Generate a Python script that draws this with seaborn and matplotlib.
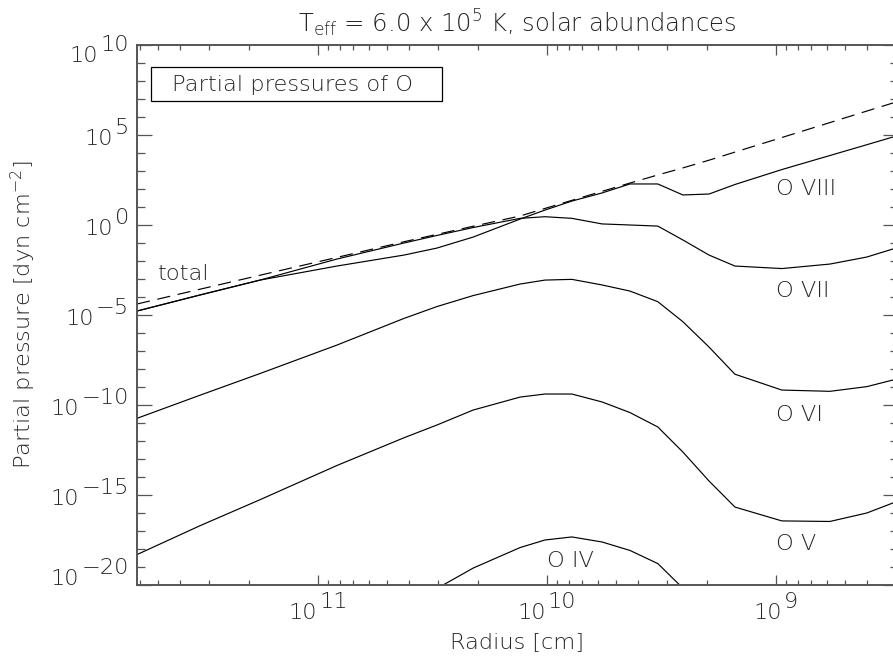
import numpy as np
import pandas as pd
import matplotlib
matplotlib.use("Agg")
import matplotlib.pyplot as plt
import seaborn as sns
from matplotlib.ticker import FixedLocator, LogLocator, NullFormatter
from matplotlib.offsetbox import TextArea, HPacker, VPacker, DrawingArea, AnnotationBbox
from matplotlib.patches import Rectangle

# ---------------- data ----------------
radius_cm = [6.17e11, 3.28e11, 1.79e11, 8.26e10, 4.21e10, 3.02e10, 2.10e10, 1.31e10,
             1.02e10, 7.78e9, 5.75e9, 4.34e9, 3.28e9, 2.55e9, 1.96e9, 1.51e9,
             9.42e8, 5.81e8, 4.01e8, 3.08e8]
# log10 of partial pressure [dyn cm^-2]
log_p_total = [-4.39, -3.57, -2.79, -1.80, -0.93, -0.52, -0.07, 0.50,
               0.92, 1.37, 1.87, 2.33, 2.78, 3.17, 3.60, 4.05,
               4.86, 5.69, 6.33, 6.78]
log_p_o8 = [-4.78, -3.89, -3.06, -2.28, -1.67, -1.28, -0.67, 0.33,
            0.83, 1.33, 1.78, 2.28, 2.28, 1.67, 1.72, 2.25,
            3.08, 3.86, 4.46, 4.89]
log_p_o7 = [-4.78, -3.89, -3.06, -1.89, -1.00, -0.58, -0.14, 0.37,
            0.46, 0.37, 0.06, 0.00, -0.06, -0.83, -1.67, -2.28,
            -2.42, -2.17, -1.78, -1.33]
log_p_o6 = [-10.74, -9.46, -8.25, -6.67, -5.19, -4.53, -3.92, -3.28,
            -3.06, -3.02, -3.33, -3.67, -4.26, -5.37, -6.78, -8.29,
            -9.17, -9.24, -8.98, -8.61]
log_p_o5 = [-18.31, -16.71, -15.26, -13.36, -11.82, -11.11, -10.28, -9.56,
            -9.39, -9.39, -9.83, -10.42, -11.22, -12.61, -14.22, -15.67,
            -16.44, -16.47, -16.00, -15.44]
radius_o4 = [3.02e10, 2.10e10, 1.31e10, 1.02e10, 7.78e9, 5.75e9, 4.34e9, 3.28e9, 2.55e9]
log_p_o4 = [-20.19, -19.06, -17.92, -17.50, -17.33, -17.61, -18.08, -18.81, -20.17]

curve_labels = ["total", "O VIII", "O VII", "O VI", "O V", "O IV"]
label_radius = [5.0e11, 1.0e9, 1.0e9, 1.0e9, 1.0e9, 1.0e10]
label_log_p = [-3.06, 1.67, -3.98, -10.9, -18.06, -18.98]

x_major = [1e11, 1e10, 1e9]
y_major_exp = [-20, -15, -10, -5, 0, 5, 10]
x_limits = (6.17e11, 2.93e8)
y_limits = (1e-20, 1e10)

title = r"T$_{\rm eff}$ = 6.0 x 10$^{5}$ K, solar abundances"
xlabel = "Radius [cm]"
ylabel = r"Partial pressure [dyn cm$^{-2}$]"
box_text = "Partial pressures of O"

# ---------------- table ----------------
rows = []
series = {
    "total": (radius_cm, log_p_total, "total"),
    "O VIII": (radius_cm, log_p_o8, "ion"),
    "O VII": (radius_cm, log_p_o7, "ion"),
    "O VI": (radius_cm, log_p_o6, "ion"),
    "O V": (radius_cm, log_p_o5, "ion"),
    "O IV": (radius_o4, log_p_o4, "ion"),
}
for name, (rr, lp, kind) in series.items():
    for r, p in zip(rr, lp):
        rows.append({"series": name, "kind": kind, "radius": r, "pressure": 10.0 ** p})
df = pd.DataFrame(rows)

# ---------------- style ----------------
sns.set_style("white")
FAMILY = ["DejaVu Sans"]
plt.rcParams["font.family"] = FAMILY
plt.rcParams["font.weight"] = "light"
plt.rcParams["axes.titleweight"] = "light"
plt.rcParams["axes.labelweight"] = "light"
plt.rcParams["mathtext.fontset"] = "custom"
plt.rcParams["mathtext.rm"] = "DejaVu Sans:light"
plt.rcParams["mathtext.it"] = "DejaVu Sans:light"
plt.rcParams["lines.scale_dashes"] = False
TEXT_C = "#262626"
AX_C = "#555555"
FS = 16.2

fig = plt.figure(figsize=(8.93, 6.57), dpi=100)
ax = fig.add_axes([137 / 893, (657 - 585) / 657, 761 / 893, 540 / 657])
ax.set_xscale("log")
ax.set_yscale("log")

sns.lineplot(data=df, x="radius", y="pressure", units="series", estimator=None,
             style="kind", dashes={"total": (9.5, 5.5), "ion": ""},
             color="black", linewidth=0.85, sort=False, legend=False, ax=ax)

ax.set_xlim(*x_limits)
ax.set_ylim(*y_limits)

for sp in ax.spines.values():
    sp.set_visible(True)
    sp.set_color(AX_C)
    sp.set_linewidth(1.4)

ax.xaxis.set_major_locator(FixedLocator(x_major))
ax.xaxis.set_minor_locator(LogLocator(base=10, subs=np.arange(2, 10), numticks=30))
ax.yaxis.set_major_locator(FixedLocator([10.0 ** e for e in y_major_exp]))
ax.yaxis.set_minor_locator(FixedLocator([10.0 ** e for e in range(-20, 11)]))
ax.xaxis.set_minor_formatter(NullFormatter())
ax.yaxis.set_minor_formatter(NullFormatter())
ax.tick_params(axis="both", which="both", direction="in", top=True, right=True,
               bottom=True, left=True, labelbottom=False, labelleft=False,
               color=AX_C, width=0.9)
ax.tick_params(axis="x", which="major", length=7.2)
ax.tick_params(axis="x", which="minor", length=3.6)
ax.tick_params(axis="y", which="major", length=10.8)
ax.tick_params(axis="y", which="minor", length=5.8)


def power_label(exp):
    tp = dict(fontsize=FS, color=TEXT_C, family=FAMILY, fontweight="light")
    base = TextArea("10", textprops=tp)
    sup = TextArea(str(exp).replace("-", "\u2212"), textprops=tp)
    col = VPacker(children=[sup, DrawingArea(0.1, 8.3)], pad=0, sep=0, align="left")
    return HPacker(children=[base, col], pad=0, sep=1.5, align="bottom")


for v in x_major:
    e = int(round(np.log10(v)))
    ab = AnnotationBbox(power_label(e), (v, 0), xycoords=ax.get_xaxis_transform(),
                        xybox=(0, -4.7), boxcoords="offset points",
                        box_alignment=(0.5, 1.0), frameon=False, pad=0,
                        annotation_clip=False)
    ax.add_artist(ab)

for e in y_major_exp:
    extra = 0.0
    if e == max(y_major_exp):
        extra = -5.0
    elif e == min(y_major_exp):
        extra = 7.2
    ab = AnnotationBbox(power_label(e), (0, 10.0 ** e), xycoords=ax.get_yaxis_transform(),
                        xybox=(-5.8, -10.4 + extra), boxcoords="offset points",
                        box_alignment=(1.0, 0.0), frameon=False, pad=0,
                        annotation_clip=False)
    ax.add_artist(ab)

ax.set_title(title, fontsize=17.5, color=TEXT_C, pad=9.4, fontweight="light")
ax.set_xlabel(xlabel, fontsize=FS, color=TEXT_C, va="baseline", fontweight="light")
ax.xaxis.set_label_coords(0.5, (585 - 648) / 540)
ax.set_ylabel(ylabel, fontsize=FS, color=TEXT_C, va="baseline", fontweight="light")
ax.yaxis.set_label_coords((31 - 137) / 761, 0.5)

# legend-like box
ax.add_patch(Rectangle((14 / 761, (585 - 101) / 540), (442 - 151) / 761, 34 / 540,
                       transform=ax.transAxes, fill=False, edgecolor="black",
                       linewidth=0.9, clip_on=False))
ax.text((172 - 137) / 761, (585 - 90.7) / 540, box_text, transform=ax.transAxes,
        fontsize=FS, color=TEXT_C, ha="left", va="baseline", fontweight="light")

for txt, r, lp in zip(curve_labels, label_radius, label_log_p):
    ax.text(r, 10.0 ** lp, txt, fontsize=FS, color=TEXT_C, ha="left", va="baseline",
            fontweight="light")

fig.savefig("out.png", dpi=100)
